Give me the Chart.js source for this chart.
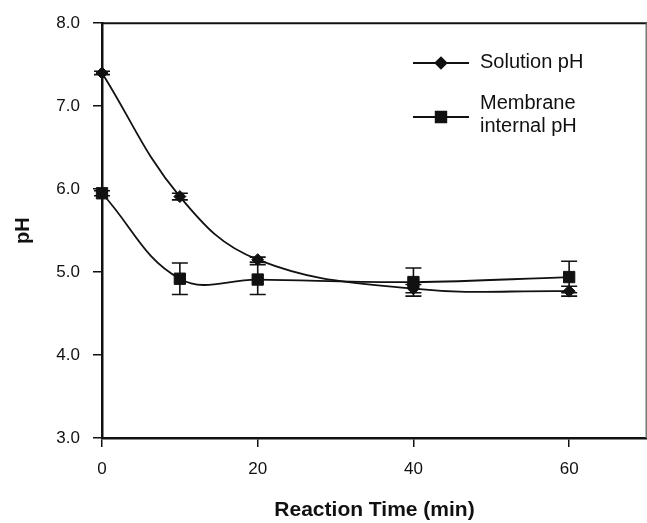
<!DOCTYPE html>
<html>
<head>
<meta charset="utf-8">
<script src="https://cdn.jsdelivr.net/npm/chart.js@4"></script>
<style>
  html, body { margin: 0; padding: 0; background: #fff; }
</style>
</head>
<body>
<canvas id="phChart" width="647" height="523"></canvas>
<script>
// reaction time (min) and measured pH with +/- error
const timeMin = [0, 10, 20, 40, 60];
const solutionPH = [7.40, 5.91, 5.15, 4.80, 4.77];
const solutionErr = [0.02, 0.04, 0.03, 0.05, 0.06];
const membranePH = [5.95, 4.92, 4.91, 4.88, 4.94];
const membraneErr = [0.03, 0.19, 0.18, 0.17, 0.19];
const xTicks = [0, 20, 40, 60];
const yTicks = [3, 4, 5, 6, 7, 8];

const ink = '#111';
const family = "'Liberation Sans', Arial, sans-serif";

const toPoints = (ys) => timeMin.map((t, i) => ({ x: t, y: ys[i] }));

const datasets = [
  {
    label: 'Solution pH',
    data: toPoints(solutionPH),
    errors: solutionErr,
    pointStyle: 'rectRot',
    pointRadius: 6,
  },
  {
    label: 'Membrane internal pH',
    legendLines: ['Membrane', 'internal pH'],
    data: toPoints(membranePH),
    errors: membraneErr,
    pointStyle: 'rect',
    pointRadius: 8,
  },
].map(ds => Object.assign({
  borderColor: ink,
  backgroundColor: ink,
  pointBackgroundColor: ink,
  pointBorderColor: ink,
  pointBorderWidth: 1,
  borderWidth: 1.8,
  tension: 0.4,
  fill: false,
  clip: false,
}, ds));

// vertical error bars with caps, under the markers
const errorBars = {
  id: 'errorBars',
  beforeDatasetsDraw(chart) {
    const { ctx, scales: { x, y } } = chart;
    ctx.save();
    ctx.strokeStyle = ink;
    ctx.lineWidth = 1.6;
    chart.data.datasets.forEach(ds => {
      ds.data.forEach((p, i) => {
        const e = ds.errors[i];
        const px = x.getPixelForValue(p.x);
        const top = y.getPixelForValue(p.y + e);
        const bot = y.getPixelForValue(p.y - e);
        ctx.beginPath();
        ctx.moveTo(px, top); ctx.lineTo(px, bot);
        ctx.moveTo(px - 8, top); ctx.lineTo(px + 8, top);
        ctx.moveTo(px - 8, bot); ctx.lineTo(px + 8, bot);
        ctx.stroke();
      });
    });
    ctx.restore();
  }
};

// top/right frame lines and the in-plot legend
const frameAndLegend = {
  id: 'frameAndLegend',
  afterDraw(chart) {
    const { ctx, chartArea: a } = chart;
    ctx.save();
    ctx.lineWidth = 2;
    ctx.strokeStyle = ink;
    ctx.beginPath();
    ctx.moveTo(a.left, a.top);
    ctx.lineTo(a.right, a.top);
    ctx.stroke();
    ctx.strokeStyle = '#777';
    ctx.lineWidth = 1.5;
    ctx.beginPath();
    ctx.moveTo(a.right - 0.75, a.top);
    ctx.lineTo(a.right - 0.75, a.bottom);
    ctx.stroke();

    const rows = [
      { y: 63, lines: [62] },
      { y: 117, lines: [103, 126] },
    ];
    ctx.font = '20px ' + family;
    ctx.textBaseline = 'middle';
    ctx.textAlign = 'left';
    chart.data.datasets.forEach((ds, i) => {
      const r = rows[i];
      ctx.strokeStyle = ink;
      ctx.fillStyle = ink;
      ctx.lineWidth = 1.8;
      ctx.beginPath();
      ctx.moveTo(413, r.y);
      ctx.lineTo(469, r.y);
      ctx.stroke();
      Chart.helpers.drawPoint(ctx, {
        pointStyle: ds.pointStyle,
        radius: ds.pointStyle === 'rect' ? 7.5 : 5.5,
        rotation: 0,
        borderWidth: 1,
      }, 441, r.y);
      const text = ds.legendLines || [ds.label];
      text.forEach((t, k) => ctx.fillText(t, 480, r.lines[k]));
    });
    ctx.restore();
  }
};

const config = {
  type: 'line',
  data: { datasets },
  options: {
    responsive: false,
    animation: false,
    layout: {
      autoPadding: false,
      padding: { top: 22, right: 0, left: 0, bottom: 0 },
    },
    plugins: {
      legend: { display: false },
      tooltip: { enabled: false },
    },
    scales: {
      x: {
        type: 'linear',
        min: 0,
        max: 70,
        afterBuildTicks: (axis) => { axis.ticks = xTicks.map(v => ({ value: v })); },
        afterFit: (axis) => {
          axis.height = 85;
          axis.paddingLeft = 0;
          axis.paddingRight = 0;
        },
        grid: { drawOnChartArea: false, drawTicks: true, tickLength: 9, color: ink, lineWidth: 1.5 },
        border: { display: true, color: ink, width: 2.5 },
        ticks: { color: ink, padding: 12, maxRotation: 0, font: { family, size: 17 } },
        title: {
          display: true,
          text: 'Reaction Time (min)',
          color: ink,
          padding: { top: 0, bottom: 0 },
          font: { family, size: 21, weight: 'bold' },
        },
      },
      y: {
        type: 'linear',
        min: 3,
        max: 8,
        afterBuildTicks: (axis) => { axis.ticks = yTicks.map(v => ({ value: v })); },
        afterFit: (axis) => { axis.width = 102; },
        grid: { drawOnChartArea: false, drawTicks: true, tickLength: 9, color: ink, lineWidth: 1.5 },
        border: { display: true, color: ink, width: 2.5 },
        ticks: {
          color: ink,
          padding: 13,
          font: { family, size: 17 },
          callback: (v) => v.toFixed(1),
        },
        title: {
          display: true,
          text: 'pH',
          color: ink,
          padding: { top: 11, bottom: 0 },
          font: { family, size: 20, weight: 'bold' },
        },
      },
    },
  },
  plugins: [errorBars, frameAndLegend],
};

new Chart(document.getElementById('phChart').getContext('2d'), config);
</script>
</body>
</html>
